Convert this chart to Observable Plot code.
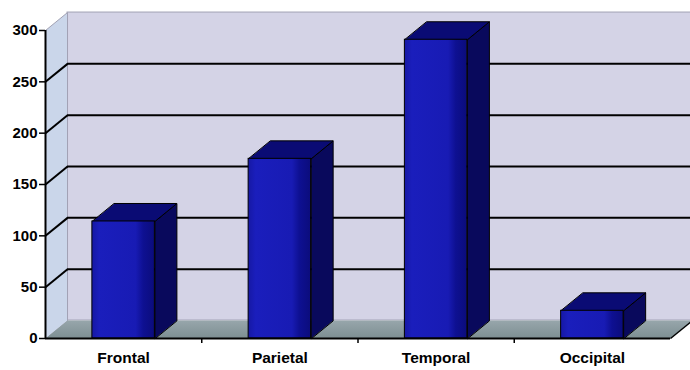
<!DOCTYPE html>
<html>
<head>
<meta charset="utf-8">
<script src="https://cdn.jsdelivr.net/npm/d3@7"></script>
<script src="https://cdn.jsdelivr.net/npm/@observablehq/plot@0.6"></script>
<style>
  html, body { margin: 0; padding: 0; background: #ffffff; }
  #chart svg { display: block; }
</style>
</head>
<body>
<div id="chart"></div>
<script>
// Lobe categories and their counts
const regions = ["Frontal", "Parietal", "Temporal", "Occipital"];
const counts = [114, 175, 291, 27];
const yTicks = [0, 50, 100, 150, 200, 250, 300];
const gridValues = [50, 100, 150, 200, 250];

// Depth of the 3-D box, in data units (x: category slots, y: count)
const DX = 0.141;
const DY = 17.5;
const HALF = 0.2;   // half width of a column face
const YMAX = 300;
const N = regions.length;

const bars = regions.map((name, i) => ({name, i, v: counts[i], x1: i + 0.5 - HALF, x2: i + 0.5 + HALF}));

// Sheared faces of each column as closed polygons
const topFaces = bars.flatMap(b => [
  {id: b.name, x: b.x1, y: b.v},
  {id: b.name, x: b.x2, y: b.v},
  {id: b.name, x: b.x2 + DX, y: b.v + DY},
  {id: b.name, x: b.x1 + DX, y: b.v + DY}
]);
const sideFaces = bars.flatMap(b => [
  {id: b.name, x: b.x2, y: 0},
  {id: b.name, x: b.x2, y: b.v},
  {id: b.name, x: b.x2 + DX, y: b.v + DY},
  {id: b.name, x: b.x2 + DX, y: DY}
]);
const floor = [
  {x: 0, y: 0}, {x: N, y: 0}, {x: N + DX, y: DY}, {x: DX, y: DY}
];
const sideWall = [
  {x: 0, y: 0}, {x: 0, y: YMAX}, {x: DX, y: YMAX + DY}, {x: DX, y: DY}
];

const defs = () => {
  const g = d3.create("svg:defs");
  const grad = g.append("linearGradient").attr("id", "frontFace").attr("x1", 0).attr("x2", 1).attr("y1", 0).attr("y2", 0);
  grad.append("stop").attr("offset", "0%").attr("stop-color", "#1618a4");
  grad.append("stop").attr("offset", "12%").attr("stop-color", "#1a1ebc");
  grad.append("stop").attr("offset", "70%").attr("stop-color", "#181bb4");
  grad.append("stop").attr("offset", "82%").attr("stop-color", "#0e1092");
  grad.append("stop").attr("offset", "100%").attr("stop-color", "#0b0c7c");
  const floorGrad = g.append("linearGradient").attr("id", "floorFill").attr("x1", 0).attr("x2", 0).attr("y1", 0).attr("y2", 1);
  floorGrad.append("stop").attr("offset", "0%").attr("stop-color", "#97a6ab");
  floorGrad.append("stop").attr("offset", "100%").attr("stop-color", "#7d8e92");
  return g.node();
};

const chart = Plot.plot({
  width: 690,
  height: 370,
  marginLeft: 45,
  marginRight: 20,
  marginTop: 30,
  marginBottom: 32,
  style: {fontFamily: "'Liberation Sans', Arial, sans-serif", color: "#000", background: "#fff"},
  x: {type: "linear", domain: [0, N], axis: null},
  y: {domain: [0, YMAX], axis: null},
  marks: [
    defs,
    // back wall
    Plot.rect([0], {x1: DX, x2: N + DX, y1: DY, y2: YMAX + DY, fill: "#d4d3e6", stroke: "#a2a2b4", strokeWidth: 1}),
    // left wall
    Plot.line(sideWall, {x: "x", y: "y", fill: "#cad6ea", stroke: "#a2a2b4", strokeWidth: 1, curve: "linear-closed"}),
    // gridlines on back and side walls
    Plot.ruleY(gridValues, {y: d => d + DY, x1: DX, x2: N + DX, stroke: "#000", strokeWidth: 2}),
    Plot.link(gridValues, {x1: 0, y1: d => d, x2: DX, y2: d => d + DY, stroke: "#000", strokeWidth: 2}),
    // floor
    Plot.line(floor, {x: "x", y: "y", fill: "url(#floorFill)", stroke: "none", curve: "linear-closed"}),
    Plot.link([0], {x1: N, y1: 0, x2: N + DX, y2: DY, stroke: "#000", strokeWidth: 1.5}),
    // columns
    Plot.line(sideFaces, {x: "x", y: "y", z: "id", fill: "#09095c", stroke: "#000", strokeWidth: 1, curve: "linear-closed"}),
    Plot.line(topFaces, {x: "x", y: "y", z: "id", fill: "#0a0b74", stroke: "#000", strokeWidth: 1, curve: "linear-closed"}),
    Plot.rectY(bars, {x1: "x1", x2: "x2", y1: 0, y2: "v", fill: "url(#frontFace)", stroke: "#000", strokeWidth: 1}),
    // axes
    Plot.ruleX([0], {y1: 0, y2: YMAX, stroke: "#000", strokeWidth: 2}),
    Plot.ruleY([0], {x1: 0, x2: N, stroke: "#000", strokeWidth: 2}),
    Plot.axisY({ticks: yTicks, tickSize: 6, tickPadding: 2, fontSize: 15, fontWeight: "bold", strokeWidth: 1.5}),
    Plot.axisX({ticks: [1, 2, 3], tickSize: 5, tickFormat: () => "", strokeWidth: 1.5}),
    Plot.axisX({ticks: bars.map(b => b.i + 0.5), tickSize: 0, tickPadding: 13, tickFormat: d => regions[Math.floor(d)], fontSize: 15.5, fontWeight: "bold"})
  ]
});

document.getElementById("chart").appendChild(chart);
</script>
</body>
</html>
